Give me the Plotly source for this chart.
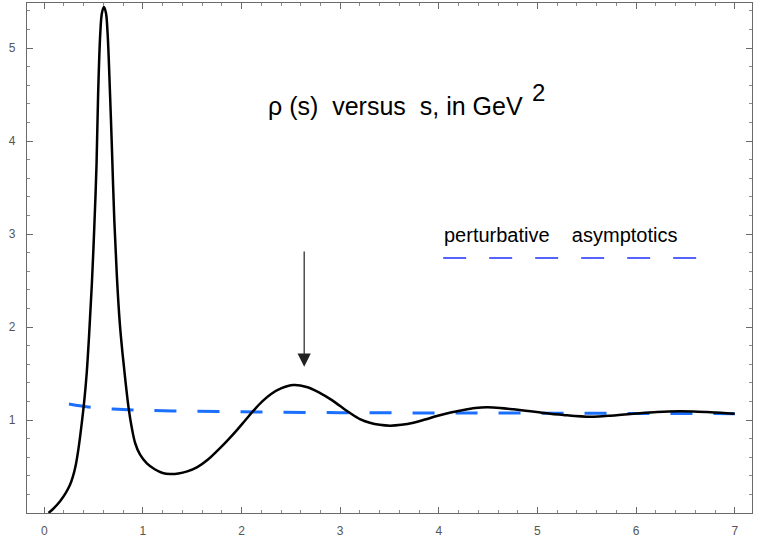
import plotly.graph_objects as go

# spectral density rho(s) (s in GeV^2)
s_vals = [0.044, 0.10, 0.162, 0.22, 0.26, 0.29, 0.32, 0.348, 0.375, 0.405, 0.43, 0.455, 0.483, 0.51, 0.53,
          0.546, 0.568, 0.585, 0.605, 0.625, 0.642, 0.667, 0.685, 0.71, 0.736, 0.765, 0.795, 0.825,
          0.855, 0.885, 0.922, 0.97, 1.04, 1.12, 1.20, 1.277, 1.36, 1.45, 1.547, 1.66, 1.784, 1.87,
          1.953, 2.04, 2.121, 2.21, 2.30, 2.40, 2.527, 2.66, 2.797, 2.90, 3.0, 3.10, 3.20, 3.30, 3.40,
          3.507, 3.62, 3.743, 3.86, 3.98, 4.12, 4.25, 4.37, 4.487, 4.62, 4.757, 4.88, 4.993, 5.13,
          5.263, 5.38, 5.50, 5.62, 5.736, 5.85, 5.973, 6.09, 6.21, 6.33, 6.446, 6.58, 6.716, 6.86, 7.0]
rho_vals = [0.0, 0.055, 0.13, 0.22, 0.30, 0.39, 0.52, 0.70, 0.92, 1.20, 1.50, 1.92, 2.47, 3.15, 3.75,
            4.5, 5.16, 5.38, 5.44, 5.38, 5.16, 4.5, 3.95, 3.15, 2.55, 2.05, 1.70, 1.40,
            1.13, 0.93, 0.75, 0.63, 0.534, 0.47, 0.43, 0.419, 0.425, 0.448, 0.49, 0.575, 0.70, 0.795,
            0.892, 1.0, 1.10, 1.20, 1.28, 1.34, 1.376, 1.355, 1.29, 1.225, 1.15, 1.075, 1.01, 0.971, 0.948,
            0.939, 0.948, 0.971, 1.005, 1.043, 1.08, 1.108, 1.128, 1.136, 1.13, 1.115, 1.10, 1.086, 1.068,
            1.054, 1.042, 1.036, 1.038, 1.046, 1.056, 1.068, 1.078, 1.086, 1.092, 1.094, 1.092, 1.086, 1.078, 1.068]

# perturbative asymptotics
s_pert = [0.25, 0.47, 0.7, 0.9, 1.3, 2.0, 3.0, 4.0, 5.0, 6.0, 7.0]
rho_pert = [1.172, 1.136, 1.118, 1.108, 1.098, 1.088, 1.079, 1.076, 1.074, 1.071, 1.068]

x_ticks = [0, 1, 2, 3, 4, 5, 6, 7]
y_ticks = [1, 2, 3, 4, 5]

fig = go.Figure()
fig.add_trace(go.Scatter(x=s_pert, y=rho_pert, mode="lines",
                         line=dict(color="#1a6fff", width=3, dash="22px,21px", shape="spline"),
                         hoverinfo="skip", showlegend=False))
fig.add_trace(go.Scatter(x=s_vals, y=rho_vals, mode="lines",
                         line=dict(color="black", width=2.5, shape="spline", smoothing=1.0),
                         showlegend=False))

axis_common = dict(showline=True, linecolor="#6a6a6a", linewidth=1.2, mirror="ticks",
                   ticks="inside", ticklen=6, tickcolor="#6a6a6a", tickwidth=1,
                   showgrid=False, zeroline=False, automargin=False,
                   tickfont=dict(family="Liberation Sans, Arial", size=12, color="#555"),
                   minor=dict(dtick=0.2, ticks="inside", ticklen=3, tickcolor="#8a8a8a", showgrid=False))

fig.update_xaxes(range=[-0.175, 7.175], tickvals=x_ticks, ticklabelstandoff=6, **axis_common)
fig.update_yaxes(range=[0, 5.484], tickvals=y_ticks, ticklabelstandoff=8, **axis_common)

txt_font = dict(family="Liberation Sans, Arial", color="black")
fig.add_annotation(x=2.25, y=4.376, xref="x", yref="y", xanchor="left", yanchor="middle",
                   text="\u03c1 (s)\u00a0\u00a0versus\u00a0\u00a0s, in GeV", showarrow=False,
                   font=dict(size=25, **txt_font))
fig.add_annotation(x=5.01, y=4.52, xref="x", yref="y", xanchor="center", yanchor="middle",
                   text="2", showarrow=False, font=dict(size=24, **txt_font))
fig.add_annotation(x=4.03, y=2.99, xref="x", yref="y", xanchor="left", yanchor="middle",
                   text="perturbative\u00a0\u00a0\u00a0\u00a0asymptotics", showarrow=False,
                   font=dict(size=20, **txt_font))
fig.add_shape(type="line", xref="x", yref="y", x0=4.044, x1=6.628, y0=2.742, y1=2.742,
              line=dict(color="#2030ff", width=1.6, dash="23px,23px"))

# arrow marking the resonance
fig.add_annotation(x=2.635, y=1.573, ax=2.635, ay=2.828, xref="x", yref="y", axref="x", ayref="y",
                   text="", showarrow=True, arrowhead=2, arrowsize=2.2, arrowwidth=1.2, arrowcolor="#222")

fig.update_layout(width=763, height=538, margin=dict(l=27, r=11, t=3, b=25),
                  paper_bgcolor="white", plot_bgcolor="white")

fig.write_html("out.html", config={"displayModeBar": False},
               post_script="document.body.style.margin='0';")
